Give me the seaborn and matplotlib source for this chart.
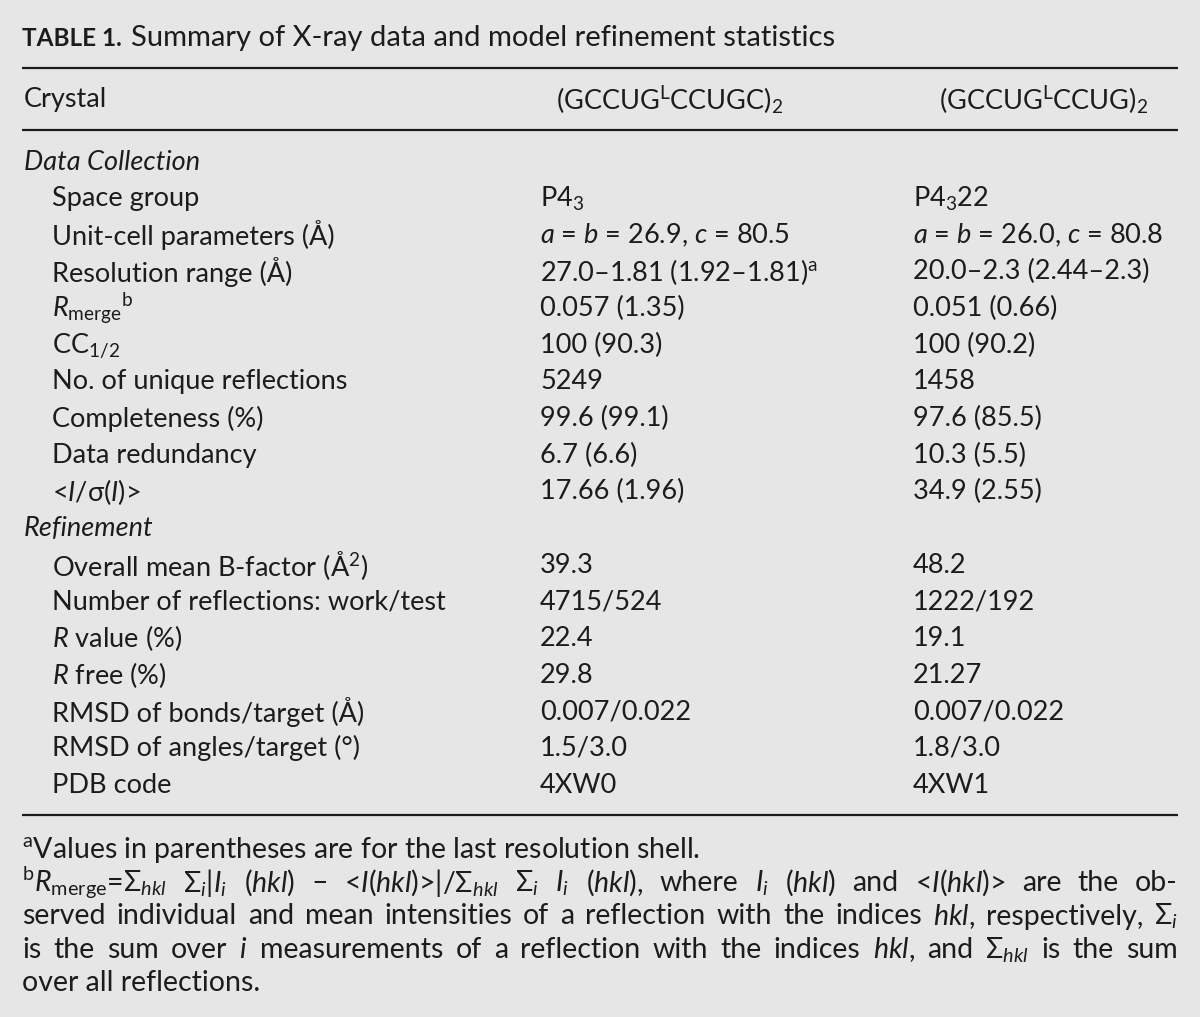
import matplotlib
matplotlib.use("Agg")
import matplotlib.pyplot as plt
import seaborn as sns
import pandas as pd

# --- contenu du tableau -------------------------------------------------
title_bold = "TABLE 1."
title_rest = "Summary of X-ray data and model refinement statistics"
header = ["Crystal",
          r"(GCCUG$^{\mathrm{L}}$CCUGC)$_2$",
          r"(GCCUG$^{\mathrm{L}}$CCUG)$_2$"]

section_data = "Data Collection"
labels_data = ["Space group",
               "Unit-cell parameters (Å)",
               "Resolution range (Å)",
               r"$R_{\mathrm{merge}}{}^{\mathrm{b}}$",
               r"CC$_{1/2}$",
               "No. of unique reflections",
               "Completeness (%)",
               "Data redundancy",
               r"<$I$/σ($I$)>"]
crystal1_data = [r"P4$_3$",
                 r"$a$ = $b$ = 26.9, $c$ = 80.5",
                 r"27.0–1.81 (1.92–1.81)$^{\mathrm{a}}$",
                 "0.057 (1.35)",
                 "100 (90.3)",
                 "5249",
                 "99.6 (99.1)",
                 "6.7 (6.6)",
                 "17.66 (1.96)"]
crystal2_data = [r"P4$_3$22",
                 r"$a$ = $b$ = 26.0, $c$ = 80.8",
                 "20.0–2.3 (2.44–2.3)",
                 "0.051 (0.66)",
                 "100 (90.2)",
                 "1458",
                 "97.6 (85.5)",
                 "10.3 (5.5)",
                 "34.9 (2.55)"]

section_ref = "Refinement"
labels_ref = [r"Overall mean B-factor (Å$^2$)",
              "Number of reflections: work/test",
              r"$R$ value (%)",
              r"$R$ free (%)",
              "RMSD of bonds/target (Å)",
              "RMSD of angles/target (°)",
              "PDB code"]
crystal1_ref = ["39.3", "4715/524", "22.4", "29.8", "0.007/0.022", "1.5/3.0", "4XW0"]
crystal2_ref = ["48.2", "1222/192", "19.1", "21.27", "0.007/0.022", "1.8/3.0", "4XW1"]

footnote_a = r"$^{\mathrm{a}}$Values in parentheses are for the last resolution shell."
footnote_b = [
    r"$^{\mathrm{b}}R_{\mathrm{merge}}$=$\Sigma_{hkl}$ $\Sigma_i$|$I_i$ ($hkl$) – <$I$($hkl$)>|/$\Sigma_{hkl}$ "
    r"$\Sigma_i$ $I_i$ ($hkl$), where $I_i$ ($hkl$) and <$I$($hkl$)> are the ob-",
    r"served individual and mean intensities of a reflection with the indices $hkl$, respectively, $\Sigma_i$",
    r"is the sum over $i$ measurements of a reflection with the indices $hkl$, and $\Sigma_{hkl}$ is the sum",
]
footnote_end = "over all reflections."

# --- mise en forme ------------------------------------------------------
BG = "#e6e6e6"
INK = "#1c1c1c"
FONT = ["Lato", "DejaVu Sans"]

sns.set_theme(style="white")
plt.rcParams["font.family"] = FONT
plt.rcParams["mathtext.fontset"] = "custom"
plt.rcParams["mathtext.rm"] = "Lato"
plt.rcParams["mathtext.it"] = "Lato:italic"
plt.rcParams["mathtext.bf"] = "Lato:bold"

rows = pd.DataFrame(
    [(section_data, "", "", "section")]
    + list(zip(labels_data, crystal1_data, crystal2_data, ["row"] * len(labels_data)))
    + [(section_ref, "", "", "section")]
    + list(zip(labels_ref, crystal1_ref, crystal2_ref, ["row"] * len(labels_ref))),
    columns=["label", "c1", "c2", "kind"],
)

fig = plt.figure(figsize=(12, 10.17), dpi=100, facecolor=BG)
ax = fig.add_axes([0, 0, 1, 1])
ax.set_facecolor(BG)
ax.set_xlim(0, 1200)
ax.set_ylim(1017, 0)
ax.axis("off")

FS = 19.5
FT = 21
FN = 20.5
X_LEFT, X_RIGHT = 22, 1178

fig.canvas.draw()
renderer = fig.canvas.get_renderer()

# titre
tb = ax.text(X_LEFT, 38, title_bold, fontsize=17.5, fontweight="bold", color=INK, va="center")
bold_w = tb.get_window_extent(renderer).width
ax.text(X_LEFT + bold_w + 9, 38, title_rest, fontsize=FT, color=INK, va="center")

# filets
for y in (68, 130, 815):
    ax.hlines(y, X_LEFT, X_RIGHT, color=INK, lw=1.6)

# en-tête
ax.text(24, 100, header[0], fontsize=FS, color=INK, va="center")
ax.text(670, 100, header[1], fontsize=FS, color=INK, va="center", ha="center")
ax.text(1044, 100, header[2], fontsize=FS, color=INK, va="center", ha="center")

# lignes du tableau
y0, pitch = 162, 36.65
for i, r in rows.iterrows():
    y = y0 + i * pitch
    if r["kind"] == "section":
        ax.text(24, y, r["label"], fontsize=FS, style="italic", color=INK, va="center")
    else:
        ax.text(52, y, r["label"], fontsize=FS, color=INK, va="center")
        ax.text(540, y, r["c1"], fontsize=FS, color=INK, va="center")
        ax.text(913, y, r["c2"], fontsize=FS, color=INK, va="center")

# notes de bas de tableau
ax.text(X_LEFT, 850, footnote_a, fontsize=FN, color=INK, va="center")


def justify(line, y):
    words = line.split(" ")
    objs = [ax.text(0, y, w, fontsize=FN, color=INK, va="center") for w in words]
    widths = [t.get_window_extent(renderer).width for t in objs]
    gap = (X_RIGHT - X_LEFT - sum(widths)) / (len(words) - 1)
    x = X_LEFT
    for t, w in zip(objs, widths):
        t.set_x(x)
        x += w + gap


for k, line in enumerate(footnote_b):
    justify(line, 883 + k * 33.5)
ax.text(X_LEFT, 983, footnote_end, fontsize=FN, color=INK, va="center")

plt.savefig("out.png", dpi=100, facecolor=BG)
plt.close()
